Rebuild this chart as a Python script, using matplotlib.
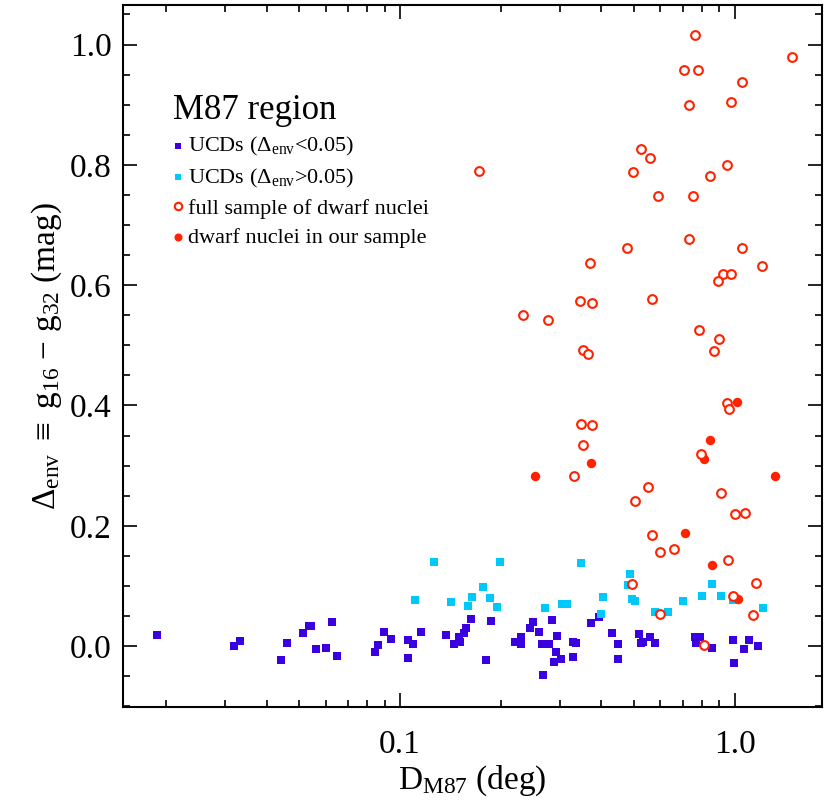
import matplotlib
matplotlib.use("Agg")
import matplotlib.pyplot as plt
from matplotlib.ticker import FixedLocator, NullFormatter, MultipleLocator

plt.rcParams['font.family'] = ['Liberation Serif', 'DejaVu Serif']
plt.rcParams['mathtext.fontset'] = 'custom'
plt.rcParams['mathtext.rm'] = 'Liberation Serif'
plt.rcParams['mathtext.it'] = 'Liberation Serif:italic'
plt.rcParams['mathtext.fallback'] = 'stix'

# UCDs with Delta_env < 0.05
ucd_lo_d = [0.0188, 0.0319, 0.0332, 0.0442, 0.0460, 0.0514, 0.0535, 0.0544, 0.0560, 0.0600,
            0.0625, 0.0648, 0.0898, 0.0860, 0.0840, 0.0938, 0.1057, 0.1096, 0.1054, 0.1153,
            0.1369, 0.1449, 0.1507, 0.1500, 0.1549, 0.1573, 0.1633, 0.1873, 0.1810, 0.2209,
            0.2300, 0.2296, 0.2443, 0.2505, 0.2610, 0.2653, 0.2786, 0.2850, 0.2950, 0.2930,
            0.3020, 0.2878, 0.2667, 0.3285, 0.3350, 0.3278, 0.3724, 0.3927, 0.4295, 0.4490,
            0.4490, 0.5180, 0.5266, 0.5330, 0.5570, 0.5780, 0.7600, 0.7850, 0.7680, 0.8570,
            0.9910, 0.9980, 1.0690, 1.1060, 1.1770]
ucd_lo_v = [0.0177, 0.0000, 0.0089, -0.0233, 0.0055, 0.0210, 0.0338, 0.0332, -0.0055, -0.0033,
            0.0400, -0.0172, 0.0227, 0.0017, -0.0100, 0.0116, 0.0100, 0.0028, -0.0194, 0.0238,
            0.0177, 0.0039, 0.0061, 0.0144, 0.0210, 0.0300, 0.0454, 0.0420, -0.0238, 0.0066,
            0.0155, 0.0033, 0.0300, 0.0404, 0.0227, 0.0039, 0.0028, 0.0427, 0.0160, -0.0105,
            -0.0210, -0.0260, -0.0480, 0.0072, 0.0055, -0.0183, 0.0377, 0.0487, 0.0220, 0.0039,
            -0.0210, 0.0200, 0.0044, 0.0072, 0.0144, 0.0044, 0.0144, 0.0144, 0.0044, -0.0033,
            0.0100, -0.0277, -0.0050, 0.0094, 0.0000]

# UCDs with Delta_env > 0.05
ucd_hi_d = [0.1263, 0.1993, 0.3477, 0.1109, 0.1420, 0.1773, 0.1644, 0.1856, 0.1592, 0.1952,
            0.2706, 0.3050, 0.3157, 0.4036, 0.4000, 0.4850, 0.4786, 0.4920, 0.5028, 0.5770,
            0.6320, 0.7010, 0.7970, 0.8540, 0.9120, 0.9860, 1.2180]
ucd_hi_v = [0.1400, 0.1397, 0.1374, 0.0765, 0.0726, 0.0986, 0.0815, 0.0803, 0.0665, 0.0648,
            0.0630, 0.0698, 0.0698, 0.0810, 0.0537, 0.1197, 0.1020, 0.0780, 0.0754, 0.0565,
            0.0570, 0.0754, 0.0837, 0.1036, 0.0830, 0.0765, 0.0630]

# full sample of dwarf nuclei
nuc_all_d = [0.7626, 1.4850, 0.7077, 0.7790, 1.0540, 0.7320, 0.9750, 0.5247, 0.5567, 0.1725,
             0.4960, 0.9510, 0.8450, 0.5890, 0.7486, 0.7320, 0.4778, 1.0480, 0.3690, 1.2090,
             0.9220, 0.9720, 0.8940, 0.3457, 0.3758, 0.5655, 0.2333, 0.2761, 0.7820, 0.8995,
             0.8665, 0.3520, 0.3633, 0.9453, 0.9603, 0.3479, 0.3737, 0.3520, 0.7918, 0.3319,
             0.5514, 0.9080, 0.5040, 1.0050, 1.0730, 0.5680, 0.5970, 0.6590, 0.9549, 1.1550,
             0.4937, 0.9886, 1.1320, 0.5970, 0.8100]
nuc_all_v = [1.0163, 0.9787, 0.9570, 0.9576, 0.9380, 0.9000, 0.9050, 0.8263, 0.8108, 0.7897,
             0.7875, 0.7990, 0.7820, 0.7480, 0.7480, 0.6770, 0.6610, 0.6610, 0.6370, 0.6316,
             0.6178, 0.6190, 0.6073, 0.5735, 0.5707, 0.5773, 0.5496, 0.5424, 0.5258, 0.5100,
             0.4900, 0.4930, 0.4848, 0.4044, 0.3939, 0.3700, 0.3673, 0.3340, 0.3196, 0.2836,
             0.2637, 0.2548, 0.2420, 0.2190, 0.2206, 0.1845, 0.1563, 0.1607, 0.1424, 0.1053,
             0.1031, 0.0837, 0.0520, 0.0537, 0.0011]

# dwarf nuclei in our sample
nuc_our_d = [1.0125, 0.8425, 0.8090, 0.3713, 0.2530, 1.3190, 0.7106, 0.8555, 1.0260]
nuc_our_v = [0.4055, 0.3424, 0.3108, 0.3041, 0.2836, 0.2825, 0.1884, 0.1347, 0.0787]

blue = '#3a00e0'
cyan = '#00c8f8'
red = '#ff2200'

fig = plt.figure(figsize=(8.31, 8.06), dpi=100)
ax = fig.add_axes([0.148, 0.123, 0.841, 0.871])

ax.scatter(ucd_lo_d, ucd_lo_v, marker='s', s=30, color=blue, linewidths=0,
           label=r'UCDs ($\Delta_{\rm env}$<0.05)')
ax.scatter(ucd_hi_d, ucd_hi_v, marker='s', s=30, color=cyan, linewidths=0,
           label=r'UCDs ($\Delta_{\rm env}$>0.05)')
ax.plot(nuc_all_d, nuc_all_v, 'o', ls='none', ms=6.3, mfc='white', mec=red, mew=1.5,
        label='full sample of dwarf nuclei')
ax.scatter(nuc_our_d, nuc_our_v, marker='o', s=46, color=red, linewidths=0,
           label='dwarf nuclei in our sample')

ax.set_xscale('log')
ax.set_xlim(0.0149, 1.82)
ax.set_ylim(-0.101, 1.066)

ax.xaxis.set_major_locator(FixedLocator([0.1, 1.0]))
ax.set_xticklabels(['0.1', '1.0'])
ax.xaxis.set_minor_locator(FixedLocator([0.02, 0.03, 0.04, 0.05, 0.06, 0.07, 0.08, 0.09,
                                         0.2, 0.3, 0.4, 0.5, 0.6, 0.7, 0.8, 0.9]))
ax.xaxis.set_minor_formatter(NullFormatter())
ax.yaxis.set_major_locator(MultipleLocator(0.2))
ax.yaxis.set_minor_locator(MultipleLocator(0.05))
ax.yaxis.set_major_formatter(plt.FormatStrFormatter('%.1f'))

ax.tick_params(which='both', direction='in', top=True, right=True, labelsize=24, width=1.2)
ax.tick_params(which='major', length=10)
ax.tick_params(which='minor', length=5)
ax.tick_params(axis='x', which='major', pad=16)
ax.tick_params(axis='y', which='major', pad=8)
for s in ax.spines.values():
    s.set_linewidth(1.5)

ax.set_xlabel(r'D$_{\rm M87}$ (deg)', fontsize=24, labelpad=3)
ax.set_ylabel(r'$\Delta_{\rm env}$ $\equiv$ g$_{16}$ $-$ g$_{32}$ (mag)', fontsize=24, labelpad=4)

leg = ax.legend(loc='upper left', bbox_to_anchor=(0.059, 0.886), frameon=False,
                title='M87 region', title_fontsize=25, fontsize=16, alignment='left',
                handlelength=0.4, handletextpad=0.25, labelspacing=0.38, borderaxespad=0,
                markerscale=0.85)

fig.savefig('out.png', dpi=100)
